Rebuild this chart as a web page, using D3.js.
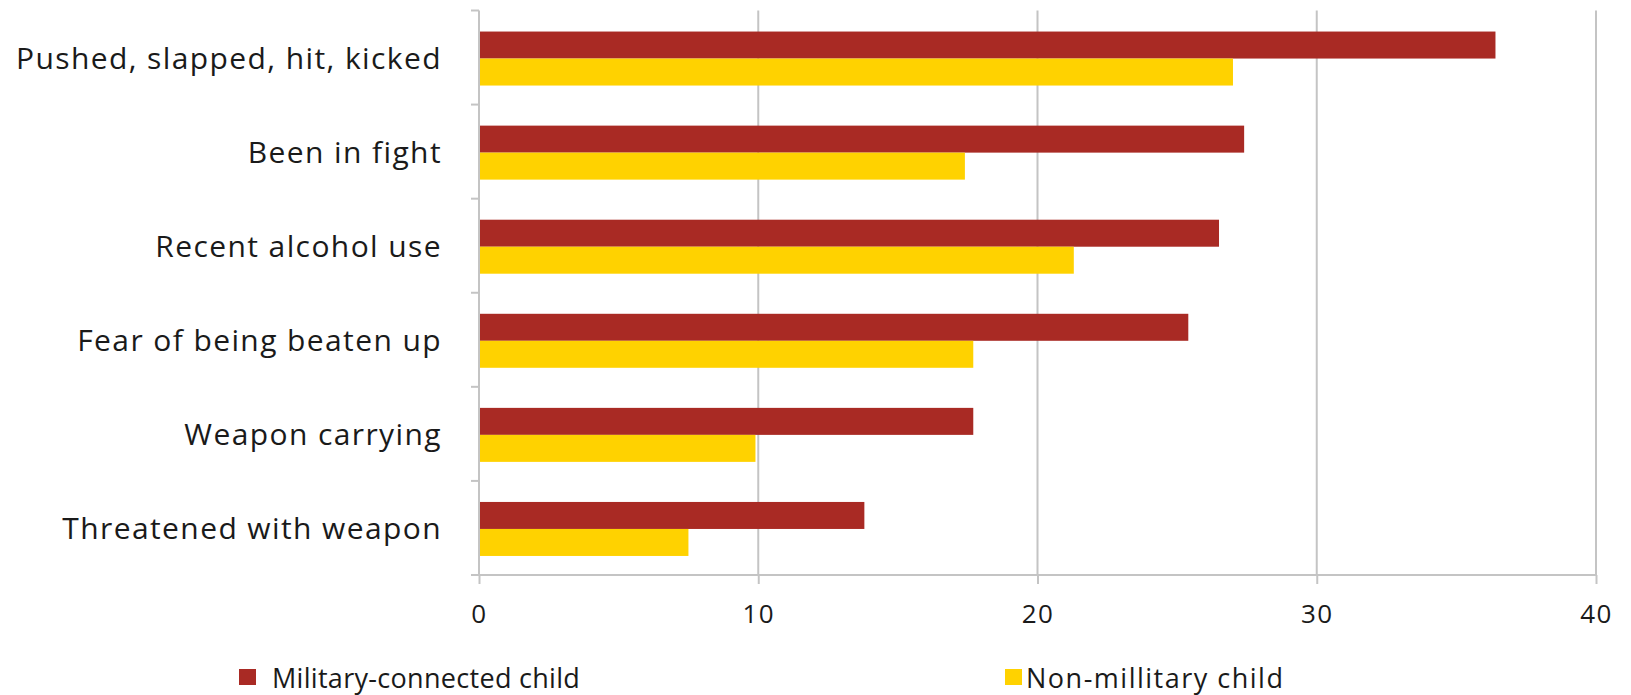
<!DOCTYPE html>
<html>
<head>
<meta charset="utf-8">
<script src="https://cdn.jsdelivr.net/npm/d3@7"></script>
<style>
    html, body { margin: 0; padding: 0; background: #ffffff; }
    svg { display: block; }
    text { font-family: "Open Sans", sans-serif; fill: #1a1a1a; }
</style>
</head>
<body>
<svg id="chart" width="1631" height="695"></svg>
<script>
document.addEventListener("DOMContentLoaded", function() {

    // Data
    const categories = [
        "Pushed, slapped, hit, kicked",
        "Been in fight",
        "Recent alcohol use",
        "Fear of being beaten up",
        "Weapon carrying",
        "Threatened with weapon"
    ];
    const military = [36.4, 27.4, 26.5, 25.4, 17.7, 13.8];
    const nonMilitary = [27.0, 17.4, 21.3, 17.7, 9.9, 7.5];
    const seriesNames = ["Military-connected child", "Non-millitary child"];
    const xTicks = [0, 10, 20, 30, 40];

    const colors = ["#a92a24", "#ffd200"];
    const gridColor = "#c4c4c4";

    // Layout
    const left = 479, right = 1596, top = 10.5, bottom = 575;
    const barH = 27;

    const svg = d3.select("#chart");

    ////////// Scales //////////
    const x = d3.scaleLinear().domain([0, 40]).range([left, right]);
    const y = d3.scaleBand().domain(categories).range([top, bottom]).padding(0);
    const inner = d3.scaleBand().domain([0, 1])
        .range([0, barH * 2]);

    const rows = categories.map((c, i) => ({cat: c, values: [military[i], nonMilitary[i]]}));

    ////////// Grid + axes //////////
    svg.append("g")
        .selectAll("line")
        .data(xTicks.filter(t => t > 0))
        .enter().append("line")
        .attr("x1", d => x(d)).attr("x2", d => x(d))
        .attr("y1", top).attr("y2", bottom)
        .attr("stroke", gridColor)
        .attr("stroke-width", 2);

    // bars
    const groups = svg.append("g")
        .selectAll("g")
        .data(rows)
        .enter().append("g")
        .attr("transform", d => `translate(0,${y(d.cat) + (y.bandwidth() - barH * 2) / 2 + 1})`);

    groups.selectAll("rect")
        .data(d => d.values)
        .enter().append("rect")
        .attr("x", x(0))
        .attr("y", (d, i) => inner(i))
        .attr("width", d => x(d) - x(0))
        .attr("height", inner.bandwidth())
        .attr("fill", (d, i) => colors[i]);

    // y axis: line with ticks on band boundaries
    const yBounds = categories.map(c => y(c)).concat([bottom]);
    svg.append("line")
        .attr("x1", left).attr("x2", left)
        .attr("y1", top).attr("y2", bottom)
        .attr("stroke", gridColor).attr("stroke-width", 2);
    svg.append("g")
        .selectAll("line")
        .data(yBounds)
        .enter().append("line")
        .attr("x1", left - 8).attr("x2", left)
        .attr("y1", d => d).attr("y2", d => d)
        .attr("stroke", gridColor).attr("stroke-width", 2);

    // x axis
    const xAxis = svg.append("g")
        .attr("transform", `translate(0,${bottom})`)
        .call(d3.axisBottom(x).tickValues(xTicks).tickSize(9).tickPadding(21));
    xAxis.select(".domain").remove();
    xAxis.selectAll(".tick line")
        .attr("stroke", gridColor).attr("stroke-width", 2);
    xAxis.selectAll(".tick text")
        .style("font-family", "'Open Sans', sans-serif")
        .style("font-size", "26px")
        .style("letter-spacing", "1.5px")
        .attr("fill", "#1a1a1a");
    svg.append("line")
        .attr("x1", left - 8).attr("x2", right)
        .attr("y1", bottom).attr("y2", bottom)
        .attr("stroke", gridColor).attr("stroke-width", 2);

    // category labels
    svg.append("g")
        .selectAll("text")
        .data(categories)
        .enter().append("text")
        .attr("x", 442)
        .attr("y", d => y(d) + y.bandwidth() / 2 + 3)
        .attr("text-anchor", "end")
        .attr("dominant-baseline", "middle")
        .style("font-size", "30px")
        .style("letter-spacing", "1.4px")
        .text(d => d);

    ////////// Legend //////////
    const legendX = [239, 1005];
    const legendTextX = [33, 21];
    const legendSpacing = ["0.3px", "1.5px"];
    const legend = svg.append("g")
        .selectAll("g")
        .data(seriesNames)
        .enter().append("g")
        .attr("transform", (d, i) => `translate(${legendX[i]},669)`);
    legend.append("rect")
        .attr("width", 17).attr("height", 16)
        .attr("fill", (d, i) => colors[i]);
    legend.append("text")
        .attr("x", (d, i) => legendTextX[i])
        .attr("y", 19)
        .style("font-size", "27px")
        .style("letter-spacing", (d, i) => legendSpacing[i])
        .text(d => d);
});
</script>
</body>
</html>
